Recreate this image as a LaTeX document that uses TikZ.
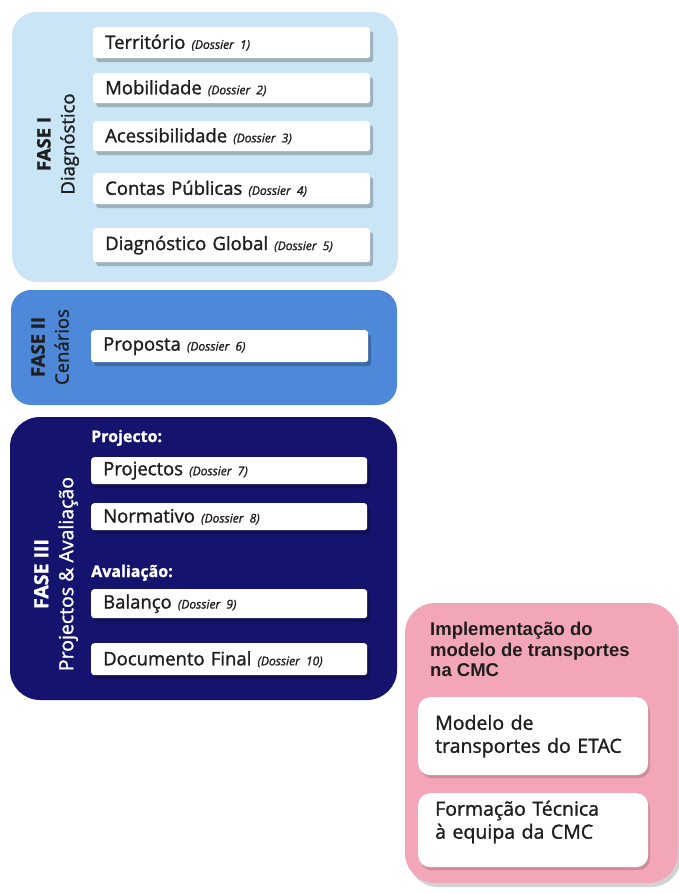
\documentclass[tikz,border=0pt]{standalone}
\usepackage{fontspec}
\setmainfont{Open Sans}[FakeBold=1.3]
\newfontfamily\arialfont{Liberation Sans}
\usetikzlibrary{shadows}
\definecolor{faseIcol}{RGB}{201,229,246}
\definecolor{faseIIcol}{RGB}{78,137,217}
\definecolor{faseIIIcol}{RGB}{20,20,110}
\definecolor{pinkcol}{RGB}{243,166,183}
\definecolor{txtcol}{RGB}{30,30,30}
\tikzset{
  panel/.style={anchor=north west, inner sep=0pt, outer sep=0pt},
  wbox/.style={anchor=north west, fill=white, rounded corners=3pt, inner xsep=12pt, inner ysep=0pt,
    align=left, text=txtcol, font=\fontsize{18.5}{22}\selectfont,
    drop shadow={shadow xshift=3pt, shadow yshift=-4pt, fill=black, opacity=0.22}},
  pbox/.style={anchor=north west, fill=white, rounded corners=12pt, inner xsep=17pt, inner ysep=0pt,
    align=left, text=txtcol, font=\fontsize{19.5}{23}\selectfont,
    drop shadow={shadow xshift=2pt, shadow yshift=-3pt, fill=black, opacity=0.15}},
  phaselabel/.style={rotate=90, align=center, font=\fontsize{18.5}{24}\selectfont},
  sublabel/.style={anchor=base west, text=white, font=\fontsize{16}{19}\selectfont\bfseries, inner sep=0pt},
}
\newcommand{\dos}[1]{{\fontsize{12}{14}\selectfont\itshape (Dossier~#1)}}
\begin{document}
\begin{tikzpicture}[x=1pt,y=-1pt]
\useasboundingbox (0,0) rectangle (679,894);
\fill[white] (0,0) rectangle (679,894);

% panels
\node[panel, fill=faseIcol, rounded corners=24pt, minimum width=385, minimum height=267,
  drop shadow={shadow xshift=1pt, shadow yshift=-3pt, fill=faseIIcol, opacity=0.25}] (fase1) at (12,12) {};
\node[panel, fill=faseIIcol, rounded corners=20pt, minimum width=386, minimum height=115] (fase2) at (11,290) {};
\node[panel, fill=faseIIIcol, rounded corners=30pt, minimum width=387, minimum height=283] (fase3) at (10,417) {};
\node[panel, fill=pinkcol, rounded corners=30pt, minimum width=273, minimum height=280,
  drop shadow={shadow xshift=3pt, shadow yshift=-4pt, fill=gray, opacity=0.35}] (impl) at (405,603) {};

% phase labels
\node[phaselabel, text=txtcol] (l1) at (58,144) {{\bfseries FASE I}\\Diagnóstico};
\node[phaselabel, text=txtcol] (l2) at (50,347) {{\bfseries FASE II}\\Cenários};
\node[phaselabel, text=white, font=\fontsize{19.5}{25}\selectfont] (l3) at (56,574) {{\bfseries FASE III}\\Projectos \& Avaliação};

% FASE I boxes
\node[wbox, text width=253pt, minimum height=31] (b1) at (93,27) {Território \dos{1}};
\node[wbox, text width=253pt, minimum height=30] (b2) at (93,73) {Mobilidade \dos{2}};
\node[wbox, text width=253pt, minimum height=30] (b3) at (93,121) {Acessibilidade \dos{3}};
\node[wbox, text width=253pt, minimum height=31] (b4) at (93,173) {Contas Públicas \dos{4}};
\node[wbox, text width=253pt, minimum height=34] (b5) at (93,228) {Diagnóstico Global \dos{5}};

% FASE II
\node[wbox, text width=253pt, minimum height=32] (b6) at (91,330) {Proposta \dos{6}};

% FASE III
\node[sublabel] (s1) at (91,442) {Projecto:};
\node[wbox, text width=252pt, minimum height=27] (b7) at (91,457) {Projectos \dos{7}};
\node[wbox, text width=252pt, minimum height=27] (b8) at (91,503) {Normativo \dos{8}};
\node[sublabel] (s2) at (91,577) {Avaliação:};
\node[wbox, text width=252pt, minimum height=29] (b9) at (91,589) {Balanço \dos{9}};
\node[wbox, text width=252pt, minimum height=32] (b10) at (91,643) {Documento Final \dos{10}};

% implementation
\node[anchor=north west, inner sep=0pt, align=left, text=txtcol,
  font=\arialfont\bfseries\fontsize{18.5}{20.5}\selectfont] (ititle) at (430,622)
  {Implementação do\\modelo de transportes\\na CMC};
\node[pbox, text width=196pt, minimum height=78] (p1) at (418,697) {Modelo de\\transportes do ETAC};
\node[pbox, text width=196pt, minimum height=74, text depth=44pt] (p2) at (418,793) {Formação Técnica\\à equipa da CMC};
\end{tikzpicture}
\end{document}
